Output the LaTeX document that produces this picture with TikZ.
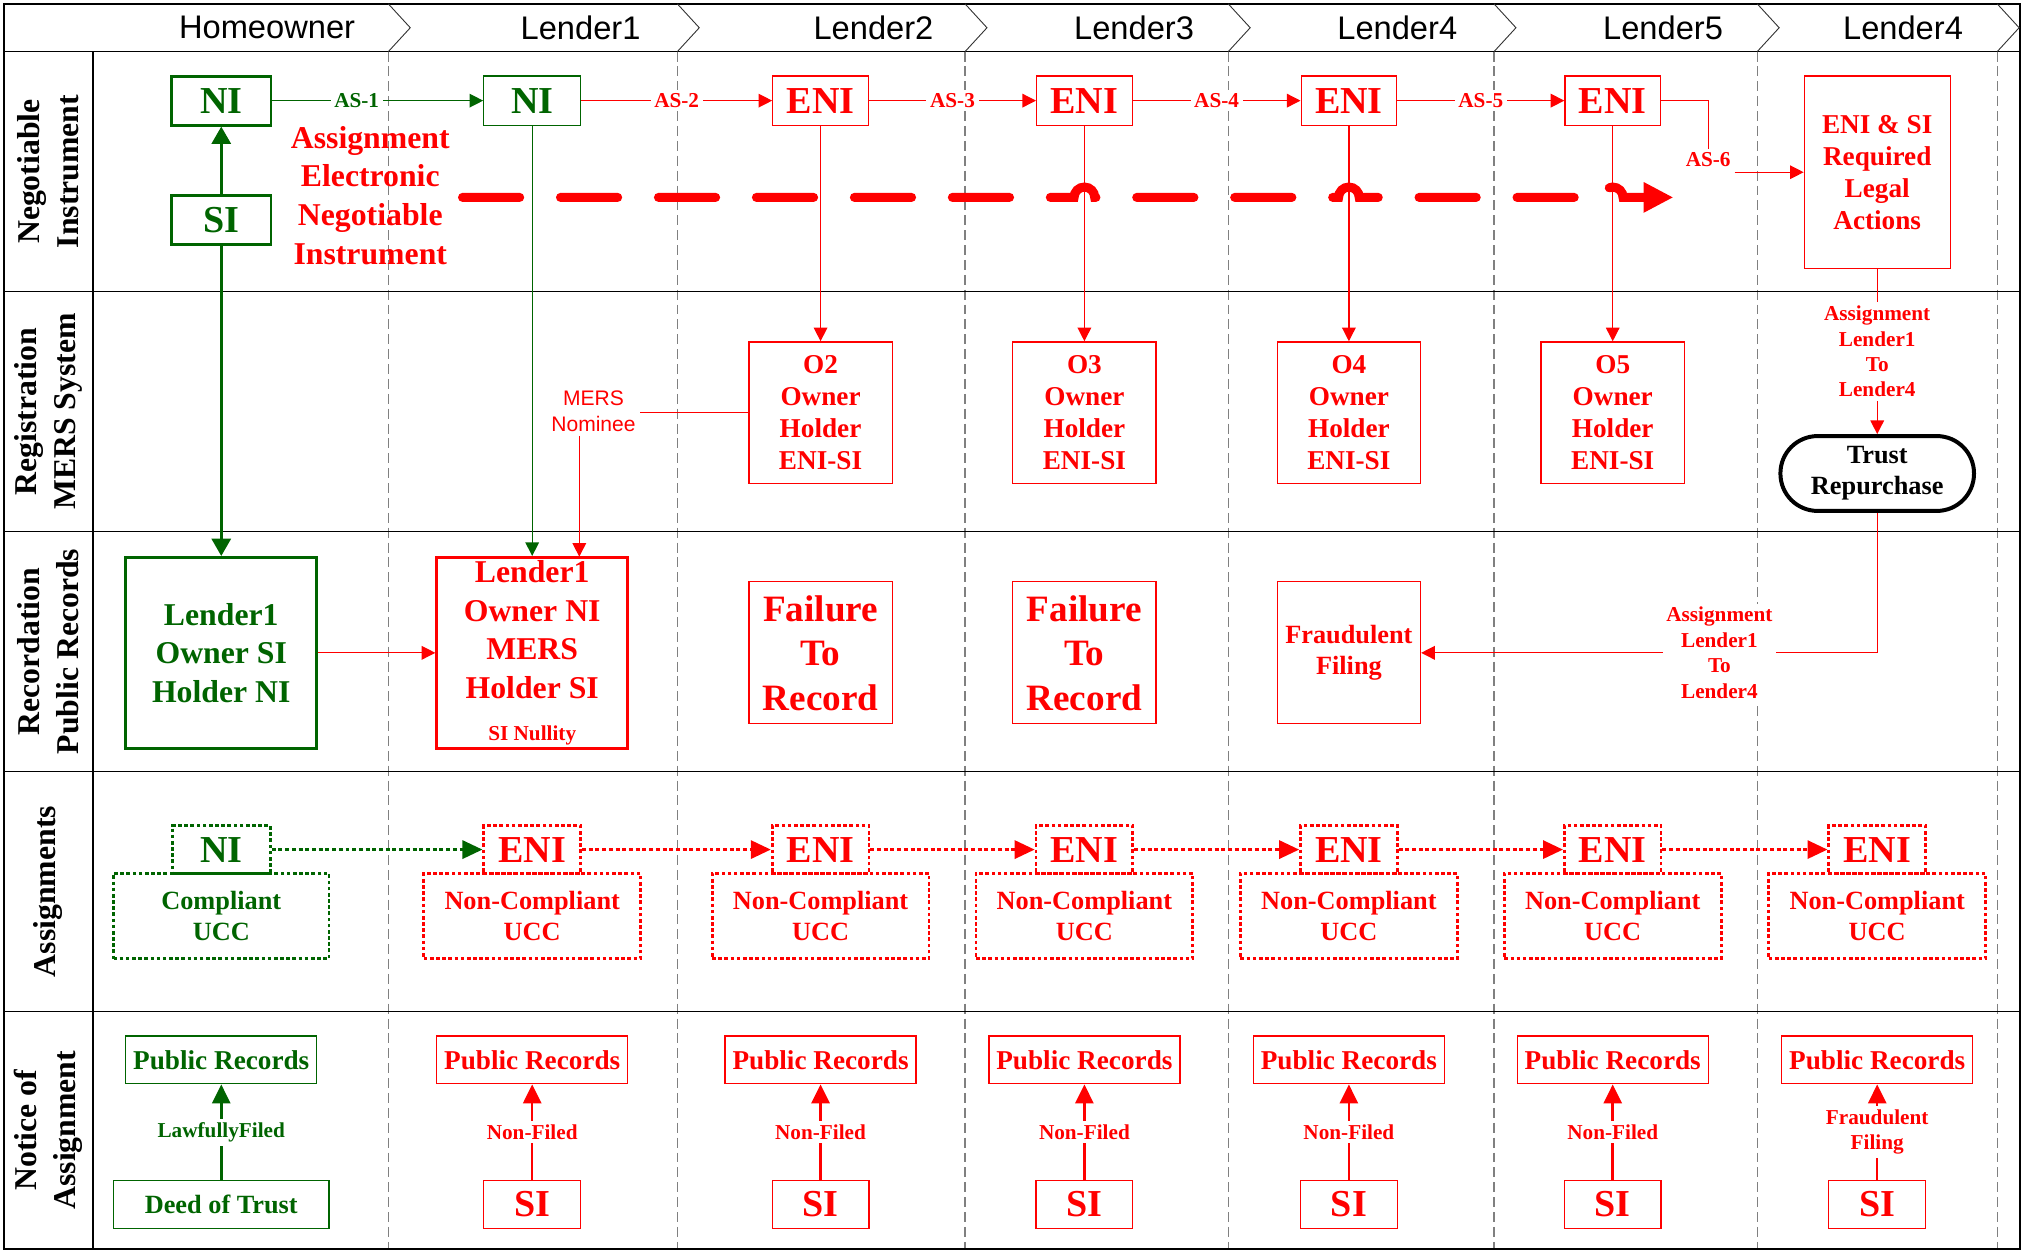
\documentclass[tikz,border=0pt]{standalone}
\usepackage{fontspec}
\setmainfont{Liberation Serif}
\newfontfamily\arialfont{Liberation Sans}
\usetikzlibrary{arrows.meta}
\definecolor{grn}{RGB}{0,100,0}
\newcommand\fBig{\fontsize{21}{25}\selectfont\bfseries}
\newcommand\fMid{\fontsize{17.5}{21.3}\selectfont\bfseries}
\newcommand\fFail{\fontsize{20.5}{24.5}\selectfont\bfseries}
\newcommand\fBox{\fontsize{15}{17.6}\selectfont\bfseries}
\newcommand\fMed{\fontsize{14.5}{17.2}\selectfont\bfseries}
\newcommand\fSmall{\fontsize{11.7}{14}\selectfont\bfseries}
\newcommand\fHead{\arialfont\fontsize{18}{21}\selectfont}
\newcommand\fMers{\arialfont\fontsize{11.6}{14.2}\selectfont}

\begin{document}
\begin{tikzpicture}[x=0.025cm, y=-0.025cm,
		every node/.style={align=center, inner sep=0pt},
		box/.style={draw, line width=0.7pt},
		boxthick/.style={draw, line width=1.6pt},
		dotbox/.style={draw, line width=1.5pt, dash pattern=on 2pt off 1.4pt},
		tag/.style={fill=white, font=\fSmall, inner sep=2pt},
		link/.style={line width=0.7pt, -{Triangle[length=7.5pt,width=7.5pt]}},
		thicklink/.style={line width=1.5pt, -{Triangle[length=9.5pt,width=10.5pt]}},
		uplink/.style={line width=1.4pt, -{Triangle[length=10.5pt,width=10pt]}},
		dotlink/.style={line width=1.5pt, dash pattern=on 2.2pt off 1.5pt, -{Triangle[length=11pt,width=10pt]}},
		bigarrow/.style={red, line width=5pt, line cap=round, dash pattern=on 31.5pt off 22.5pt, -{Triangle[length=0.575cm,width=0.55cm]}},
		lanesep/.style={gray, line width=0.7pt, dash pattern=on 5.5pt off 2.7pt},
		lanetitle/.style={rotate=90, font=\fMid},
		head/.style={font=\fHead}]
	\useasboundingbox (0,0) rectangle (1568,969.5);

	\foreach \b in {301,525,748,952,1158,1362,1548}
		\draw[lanesep] (\b,40) -- (\b,968);
	\draw[line width=0.8pt] (3,3) rectangle (1565.5,968);
	\draw[line width=0.8pt] (3,40) -- (1565.5,40)
		(3,226) -- (1565.5,226)
		(3,412) -- (1565.5,412)
		(3,598) -- (1565.5,598)
		(3,784) -- (1565.5,784)
		(72,40) -- (72,968);
	\foreach \b in {301,525,748,952,1158,1362,1548}
		\draw[line width=0.5pt, black!80] (\b,3) -- (\b+17,21.5) -- (\b,40);

	\node[head] at (207,21.5) (h0) {Homeowner};
	\node[head] at (450,21.5) (h1) {Lender1};
	\node[head] at (677,21.5) (h2) {Lender2};
	\node[head] at (879,21.5) (h3) {Lender3};
	\node[head] at (1083,21.5) (h4) {Lender4};
	\node[head] at (1289,21.5) (h5) {Lender5};
	\node[head] at (1475,21.5) (h6) {Lender4};

	\node[lanetitle] at (37.5,133) (t1) {Negotiable\\Instrument};
	\node[lanetitle] at (37.5,319) (t2) {Registration\\MERS System};
	\node[lanetitle] at (37.5,505) (t3) {Recordation\\Public Records};
	\node[lanetitle] at (37.5,691) (t4) {Assignments};
	\node[lanetitle] at (37.5,876) (t5) {Notice of\\Assignment};

	\node[boxthick, grn, font=\fBig, minimum width=1.925cm, minimum height=0.95cm] at (171.5,78) (ni) {NI};
	\node[boxthick, grn, font=\fBig, minimum width=1.925cm, minimum height=0.95cm] at (171.5,170.5) (si) {SI};
	\node[box, grn, font=\fBig, minimum width=1.875cm, minimum height=0.95cm] at (412.5,78) (ni1) {NI};
	\node[box, red, font=\fBig, minimum width=1.85cm, minimum height=0.95cm] at (636,78) (eni2) {ENI};
	\node[box, red, font=\fBig, minimum width=1.85cm, minimum height=0.95cm] at (840.5,78) (eni3) {ENI};
	\node[box, red, font=\fBig, minimum width=1.85cm, minimum height=0.95cm] at (1045.5,78) (eni4) {ENI};
	\node[box, red, font=\fBig, minimum width=1.85cm, minimum height=0.95cm] at (1250,78) (eni5) {ENI};
	\node[box, red, font=\fBox, minimum width=2.825cm, minimum height=3.725cm] at (1455,133.5) (legal) {ENI \& SI\\Required\\Legal\\Actions};
	\node[red, font=\fMid] at (287,151.5) (aeni) {Assignment\\Electronic\\Negotiable\\Instrument};

	\draw[bigarrow] (358.5,153) -- (832.5,153) arc[start angle=180, end angle=0, radius=0.2cm]
		-- (1037.5,153) arc[start angle=180, end angle=0, radius=0.2cm]
		-- (1242,153) arc[start angle=180, end angle=0, radius=0.2cm] -- (1297,153);

	\node[box, red, font=\fBox, minimum width=2.775cm, minimum height=2.75cm] at (636,320) (o2) {O2\\Owner\\Holder\\ENI-SI};
	\node[box, red, font=\fBox, minimum width=2.775cm, minimum height=2.75cm] at (840.5,320) (o3) {O3\\Owner\\Holder\\ENI-SI};
	\node[box, red, font=\fBox, minimum width=2.775cm, minimum height=2.75cm] at (1045.5,320) (o4) {O4\\Owner\\Holder\\ENI-SI};
	\node[box, red, font=\fBox, minimum width=2.775cm, minimum height=2.75cm] at (1250,320) (o5) {O5\\Owner\\Holder\\ENI-SI};
	\node[draw=black, line width=2.2pt, rounded corners=0.72cm, font=\fMed, minimum width=3.75cm, minimum height=1.45cm] at (1455,367) (trust) {Trust\\Repurchase};
	\node[red, font=\fMers, fill=white, inner sep=2pt] at (460,319) (mers) {MERS\\Nominee};

	\node[boxthick, grn, font=\fMid, line width=1.5pt, minimum width=3.7cm, minimum height=3.7cm] at (171.5,506) (own0) {Lender1\\Owner SI\\Holder NI};
	\node[boxthick, red, font=\fMid, line width=1.5pt, minimum width=3.7cm, minimum height=3.7cm] at (412.5,506) (own1) {Lender1\\Owner NI\\MERS\\Holder SI\\[2pt]{\fSmall SI Nullity}};
	\node[box, red, font=\fFail, minimum width=2.775cm, minimum height=2.75cm] at (636,506) (fail2) {Failure\\To\\Record};
	\node[box, red, font=\fFail, minimum width=2.775cm, minimum height=2.75cm] at (840.5,506) (fail3) {Failure\\To\\Record};
	\node[box, red, font=\fMed, minimum width=2.775cm, minimum height=2.75cm] at (1045.5,506) (fraud) {Fraudulent\\Filing};

	\node[dotbox, grn, font=\fBig, minimum width=1.9cm, minimum height=0.925cm] at (171.5,658.5) (ani0) {NI};
	\node[dotbox, grn, font=\fMed, minimum width=4.175cm, minimum height=1.65cm] at (171.5,710) (ucc0) {Compliant\\UCC};
	\node[dotbox, red, font=\fBig, minimum width=1.875cm, minimum height=0.925cm] at (412.5,658.5) (ani1) {ENI};
	\node[dotbox, red, font=\fMed, minimum width=4.2cm, minimum height=1.65cm] at (412.5,710) (ucc1) {Non-Compliant\\UCC};
	\node[dotbox, red, font=\fBig, minimum width=1.875cm, minimum height=0.925cm] at (636,658.5) (ani2) {ENI};
	\node[dotbox, red, font=\fMed, minimum width=4.2cm, minimum height=1.65cm] at (636,710) (ucc2) {Non-Compliant\\UCC};
	\node[dotbox, red, font=\fBig, minimum width=1.875cm, minimum height=0.925cm] at (840.5,658.5) (ani3) {ENI};
	\node[dotbox, red, font=\fMed, minimum width=4.2cm, minimum height=1.65cm] at (840.5,710) (ucc3) {Non-Compliant\\UCC};
	\node[dotbox, red, font=\fBig, minimum width=1.875cm, minimum height=0.925cm] at (1045.5,658.5) (ani4) {ENI};
	\node[dotbox, red, font=\fMed, minimum width=4.2cm, minimum height=1.65cm] at (1045.5,710) (ucc4) {Non-Compliant\\UCC};
	\node[dotbox, red, font=\fBig, minimum width=1.875cm, minimum height=0.925cm] at (1250,658.5) (ani5) {ENI};
	\node[dotbox, red, font=\fMed, minimum width=4.2cm, minimum height=1.65cm] at (1250,710) (ucc5) {Non-Compliant\\UCC};
	\node[dotbox, red, font=\fBig, minimum width=1.875cm, minimum height=0.925cm] at (1455,658.5) (ani6) {ENI};
	\node[dotbox, red, font=\fMed, minimum width=4.2cm, minimum height=1.65cm] at (1455,710) (ucc6) {Non-Compliant\\UCC};

	\node[box, grn, font=\fBox, minimum width=3.7cm, minimum height=0.925cm] at (171.5,821.5) (pub0) {Public Records};
	\node[box, red, font=\fBox, minimum width=3.7cm, minimum height=0.925cm] at (412.5,821.5) (pub1) {Public Records};
	\node[box, red, font=\fBox, minimum width=3.7cm, minimum height=0.925cm] at (636,821.5) (pub2) {Public Records};
	\node[box, red, font=\fBox, minimum width=3.7cm, minimum height=0.925cm] at (840.5,821.5) (pub3) {Public Records};
	\node[box, red, font=\fBox, minimum width=3.7cm, minimum height=0.925cm] at (1045.5,821.5) (pub4) {Public Records};
	\node[box, red, font=\fBox, minimum width=3.7cm, minimum height=0.925cm] at (1250,821.5) (pub5) {Public Records};
	\node[box, red, font=\fBox, minimum width=3.7cm, minimum height=0.925cm] at (1455,821.5) (pub6) {Public Records};
	\node[box, grn, font=\fMed, minimum width=4.175cm, minimum height=0.925cm] at (171.5,933.5) (deed) {Deed of Trust};
	\node[box, red, font=\fBig, minimum width=1.875cm, minimum height=0.925cm] at (412.5,933.5) (si1) {SI};
	\node[box, red, font=\fBig, minimum width=1.875cm, minimum height=0.925cm] at (636,933.5) (si2) {SI};
	\node[box, red, font=\fBig, minimum width=1.875cm, minimum height=0.925cm] at (840.5,933.5) (si3) {SI};
	\node[box, red, font=\fBig, minimum width=1.875cm, minimum height=0.925cm] at (1045.5,933.5) (si4) {SI};
	\node[box, red, font=\fBig, minimum width=1.875cm, minimum height=0.925cm] at (1250,933.5) (si5) {SI};
	\node[box, red, font=\fBig, minimum width=1.875cm, minimum height=0.925cm] at (1455,933.5) (si6) {SI};

	\draw[thicklink, grn] (si) -- (ni);
	\draw[thicklink, grn] (si) -- (own0);
	\draw[link, grn] (ni) -- node[tag, pos=0.4] {AS-1} (ni1);
	\draw[link, grn] (ni1) -- (own1);
	\draw[link, red] (ni1) -- node[tag] {AS-2} (eni2);
	\draw[link, red] (eni2) -- node[tag] {AS-3} (eni3);
	\draw[link, red] (eni3) -- node[tag] {AS-4} (eni4);
	\draw[link, red] (eni4) -- node[tag] {AS-5} (eni5);
	\node[red, tag] at (1324,124) (as6) {AS-6};
	\draw[red, line width=0.7pt] (eni5) -| (as6);
	\draw[link, red] (as6.east |- legal) -- (legal);
	\draw[link, red] (eni2) -- (o2);
	\draw[link, red] (eni3) -- (o3);
	\draw[link, red] (eni4) -- (o4);
	\draw[link, red] (eni5) -- (o5);
	\draw[link, red] (legal) -- node[tag] {Assignment\\Lender1\\To\\Lender4} (trust);
	\draw[link, red] (trust.south) |- node[tag, pos=0.673] {Assignment\\Lender1\\To\\Lender4} (fraud.east);
	\coordinate (mersin) at (449,431.5);
	\draw[red, line width=0.7pt] (o2) -- (mers.east |- o2);
	\draw[link, red] (mers.south -| mersin) -- (mersin);
	\draw[link, red] (own0) -- (own1);

	\draw[dotlink, grn] (ani0) -- (ani1);
	\draw[dotlink, red] (ani1) -- (ani2);
	\draw[dotlink, red] (ani2) -- (ani3);
	\draw[dotlink, red] (ani3) -- (ani4);
	\draw[dotlink, red] (ani4) -- (ani5);
	\draw[dotlink, red] (ani5) -- (ani6);

	\draw[uplink, grn] (deed) -- node[tag] {LawfullyFiled} (pub0);
	\draw[uplink, red] (si1) -- node[tag] {Non-Filed} (pub1);
	\draw[uplink, red] (si2) -- node[tag] {Non-Filed} (pub2);
	\draw[uplink, red] (si3) -- node[tag] {Non-Filed} (pub3);
	\draw[uplink, red] (si4) -- node[tag] {Non-Filed} (pub4);
	\draw[uplink, red] (si5) -- node[tag] {Non-Filed} (pub5);
	\draw[uplink, red] (si6) -- node[tag] {Fraudulent\\Filing} (pub6);
\end{tikzpicture}
\end{document}
